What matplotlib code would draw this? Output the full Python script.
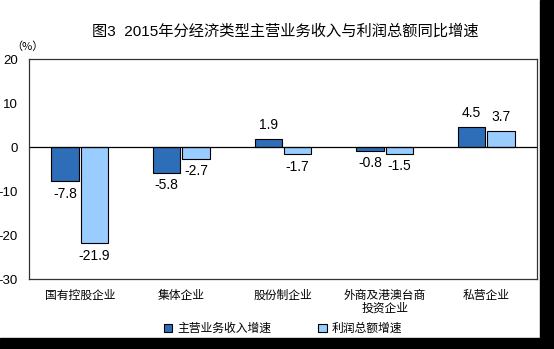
import matplotlib
matplotlib.use("Agg")
import matplotlib.pyplot as plt
import numpy as np

plt.rcParams['font.family'] = ['Liberation Sans', 'Noto Sans CJK SC']

categories = ["国有控股企业", "集体企业", "股份制企业", "外商及港澳台商\n投资企业", "私营企业"]
revenue = [-7.8, -5.8, 1.9, -0.8, 4.5]   # 主营业务收入增速
profit = [-21.9, -2.7, -1.7, -1.5, 3.7]  # 利润总额增速
yticks = [20, 10, 0, -10, -20, -30]

fig = plt.figure(figsize=(5.54, 3.49), dpi=100)
W, H = 554, 349
ax = fig.add_axes([29 / W, 1 - 279 / H, (537 - 29) / W, (279 - 59) / H])

x = np.arange(len(categories))
w = 0.27
b1 = ax.bar(x - 0.145, revenue, w, color="#2E6DB8", edgecolor="black", linewidth=0.8,
            label="主营业务收入增速")
b2 = ax.bar(x + 0.145, profit, w, color="#99CCFF", edgecolor="black", linewidth=0.8,
            label="利润总额增速")

# value labels
for bars, vals in [(b1, revenue), (b2, profit)]:
    for r, v in zip(bars, vals):
        cx = r.get_x() + r.get_width() / 2
        if v >= 0:
            ax.annotate(f"{v:.1f}", (cx, v), xytext=(0, 5), textcoords="offset points",
                        ha="center", va="bottom", fontsize=10)
        else:
            ax.annotate(f"{v:.1f}", (cx, v), xytext=(0, -4), textcoords="offset points",
                        ha="center", va="top", fontsize=10)

ax.axhline(0, color="black", linewidth=0.9)
ax.set_xlim(-0.5, len(categories) - 0.5)
ax.set_ylim(-30, 20)
ax.set_yticks(yticks)
ax.set_yticklabels([str(t) for t in yticks], fontsize=9.5)
ax.tick_params(axis="y", length=0, pad=8)
ax.set_xticks(x)
ax.set_xticklabels(categories, fontsize=8.5, linespacing=1.1)
ax.tick_params(axis="x", length=0, pad=8)
for s in ax.spines.values():
    s.set_color("#333333")
    s.set_linewidth(0.9)

fig.text(285 / W, 1 - 31 / H, "图3  2015年分经济类型主营业务收入与利润总额同比增速",
         ha="center", va="center", fontsize=11)
fig.text(27 / W, 1 - 47 / H, "（%）", ha="center", va="center", fontsize=8,
         family=['Noto Sans CJK SC', 'DejaVu Sans'])

ax.legend(loc="center", bbox_to_anchor=(283 / W, 1 - 329 / H), bbox_transform=fig.transFigure,
          ncol=2, frameon=False, fontsize=8.5, handlelength=0.7, handleheight=0.7,
          columnspacing=4, handletextpad=0.4)

# dark frame strips on the right and bottom edges
fig.patches.append(plt.Rectangle((540 / W, 0), 14 / W, 1, transform=fig.transFigure,
                                 color="black", zorder=-1))
fig.patches.append(plt.Rectangle((0, 0), 1, 11 / H, transform=fig.transFigure,
                                 color="black", zorder=-1))

fig.savefig("out.png", dpi=100)
